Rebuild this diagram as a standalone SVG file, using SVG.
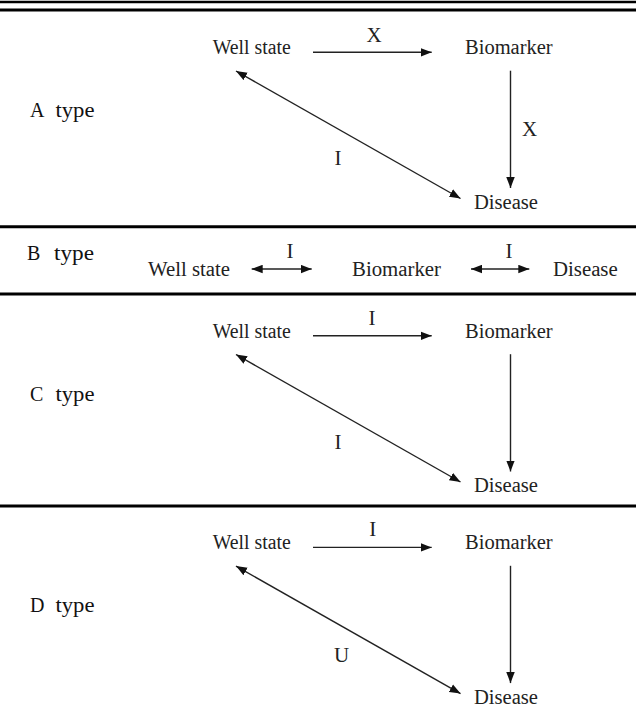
<svg xmlns="http://www.w3.org/2000/svg" width="636" height="716" viewBox="0 0 636 716">
<style>
.n{font-family:"Liberation Serif","Times New Roman",serif;font-size:20px;fill:#222}
.l{font-family:"Liberation Serif","Times New Roman",serif;font-size:21px;fill:#222;text-anchor:middle}
.t{font-family:"Liberation Serif","Times New Roman",serif;font-size:20px;fill:#111}
.c{stroke:#222;stroke-width:1.4;fill:none}
.sep{stroke:#000;stroke-width:3}
</style>
<defs>
<marker id="ah" markerUnits="userSpaceOnUse" markerWidth="12" markerHeight="9" refX="11" refY="4.25" orient="auto-start-reverse" viewBox="0 0 12 8.5">
<path d="M0,0 L11,4.25 L0,8.5 z" fill="#111"/>
</marker>
</defs>
<rect width="636" height="716" fill="#fff"/>
<g id="rules">
<line x1="0" y1="2" x2="636" y2="2" stroke="#000" stroke-width="2.5"/>
<line x1="0" y1="10" x2="636" y2="10" stroke="#000" stroke-width="3"/>
<line class="sep" x1="0" y1="226.7" x2="636" y2="226.7"/>
<line class="sep" x1="0" y1="294" x2="636" y2="294"/>
<line class="sep" x1="0" y1="506" x2="636" y2="506"/>
</g>
<g id="typeA"><text class="t" x="30" y="117">A<tspan x="55.5" textLength="39" lengthAdjust="spacingAndGlyphs">type</tspan></text></g>
<g id="typeB"><text class="t" x="27" y="260">B<tspan x="54" textLength="40" lengthAdjust="spacingAndGlyphs">type</tspan></text></g>
<g id="typeC"><text class="t" x="30" y="400.5">C<tspan x="55.5" textLength="39" lengthAdjust="spacingAndGlyphs">type</tspan></text></g>
<g id="typeD"><text class="t" x="30" y="612.1">D<tspan x="55.5" textLength="39" lengthAdjust="spacingAndGlyphs">type</tspan></text></g>
<g id="A-well"><text class="n" x="212.7" y="54.3" textLength="78" lengthAdjust="spacingAndGlyphs">Well state</text></g>
<g id="A-bio"><text class="n" x="465" y="54.3" textLength="87.7" lengthAdjust="spacingAndGlyphs">Biomarker</text></g>
<g id="A-dis"><text class="n" x="474" y="208.8" textLength="64" lengthAdjust="spacingAndGlyphs">Disease</text></g>
<g id="B-well"><text class="n" x="148" y="276" textLength="82" lengthAdjust="spacingAndGlyphs">Well state</text></g>
<g id="B-bio"><text class="n" x="352" y="276" textLength="89" lengthAdjust="spacingAndGlyphs">Biomarker</text></g>
<g id="B-dis"><text class="n" x="553" y="276" textLength="64.7" lengthAdjust="spacingAndGlyphs">Disease</text></g>
<g id="C-well"><text class="n" x="212.7" y="337.8" textLength="78" lengthAdjust="spacingAndGlyphs">Well state</text></g>
<g id="C-bio"><text class="n" x="465" y="337.8" textLength="87.7" lengthAdjust="spacingAndGlyphs">Biomarker</text></g>
<g id="C-dis"><text class="n" x="474" y="492.3" textLength="64" lengthAdjust="spacingAndGlyphs">Disease</text></g>
<g id="D-well"><text class="n" x="212.7" y="549.4" textLength="78" lengthAdjust="spacingAndGlyphs">Well state</text></g>
<g id="D-bio"><text class="n" x="465" y="549.4" textLength="87.7" lengthAdjust="spacingAndGlyphs">Biomarker</text></g>
<g id="D-dis"><text class="n" x="474" y="703.9" textLength="64" lengthAdjust="spacingAndGlyphs">Disease</text></g>
<g id="connectors">
<line class="c" x1="313" y1="52.3" x2="431.7" y2="52.3" marker-end="url(#ah)"/>
<line class="c" x1="510.5" y1="70.7" x2="510.5" y2="188" marker-end="url(#ah)"/>
<line class="c" x1="236" y1="71" x2="460.5" y2="198.5" marker-start="url(#ah)" marker-end="url(#ah)"/>
<text class="l" x="374" y="41.7">X</text>
<text class="l" x="529.5" y="136">X</text>
<text class="l" x="338" y="165">I</text>
<line class="c" x1="251.7" y1="269" x2="311.7" y2="269" marker-start="url(#ah)" marker-end="url(#ah)"/>
<line class="c" x1="471" y1="269" x2="529.3" y2="269" marker-start="url(#ah)" marker-end="url(#ah)"/>
<text class="l" x="290" y="258">I</text>
<text class="l" x="509" y="258">I</text>
<line class="c" x1="313" y1="335.8" x2="431.7" y2="335.8" marker-end="url(#ah)"/>
<line class="c" x1="510.5" y1="354.2" x2="510.5" y2="471.5" marker-end="url(#ah)"/>
<line class="c" x1="236" y1="354.5" x2="460.5" y2="482" marker-start="url(#ah)" marker-end="url(#ah)"/>
<text class="l" x="372" y="324.5">I</text>
<text class="l" x="338" y="448.5">I</text>
<line class="c" x1="313" y1="547.4" x2="431.7" y2="547.4" marker-end="url(#ah)"/>
<line class="c" x1="510.5" y1="565.8" x2="510.5" y2="683.1" marker-end="url(#ah)"/>
<line class="c" x1="236" y1="566.1" x2="460.5" y2="693.6" marker-start="url(#ah)" marker-end="url(#ah)"/>
<text class="l" x="372.7" y="536">I</text>
<text class="l" x="341.5" y="661.7">U</text>
</g>
</svg>
